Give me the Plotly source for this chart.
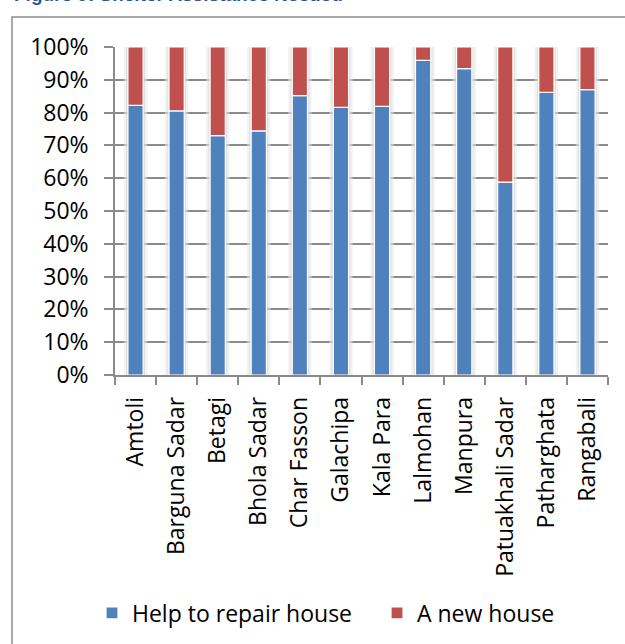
import plotly.graph_objects as go

# Upazila-level share of households by type of shelter assistance needed (%)
upazilas = ["Amtoli", "Barguna Sadar", "Betagi", "Bhola Sadar", "Char Fasson",
            "Galachipa", "Kala Para", "Lalmohan", "Manpura", "Patuakhali Sadar",
            "Patharghata", "Rangabali"]
repair_house = [82.2, 80.5, 73.0, 74.4, 85.2, 81.6, 81.9, 95.9, 93.4, 58.8, 86.2, 87.0]
new_house = [17.8, 19.5, 27.0, 25.6, 14.8, 18.4, 18.1, 4.1, 6.6, 41.2, 13.8, 13.0]
y_tick_vals = [0, 10, 20, 30, 40, 50, 60, 70, 80, 90, 100]
y_tick_text = ["0%", "10%", "20%", "30%", "40%", "50%", "60%", "70%", "80%", "90%", "100%"]

W, H = 625, 644
ML, MR, MT, MB = 115, 17, 47, 269
PW, PH = W - ML - MR, H - MT - MB

BLUE = "#4F81BD"
RED = "#C0504D"
GRID = "#8a8a8a"
FONT = "Open Sans"
BAR_W = 0.37

totals = [r + n for r, n in zip(repair_house, new_house)]

fig = go.Figure()

# soft shadow halo around each column
fig.add_trace(go.Bar(x=upazilas, y=totals, width=BAR_W + 0.2,
                     marker=dict(color="rgba(232,232,232,0.55)", line=dict(width=0)),
                     showlegend=False, hoverinfo="skip"))
fig.add_trace(go.Bar(x=upazilas, y=totals, width=BAR_W + 0.09,
                     marker=dict(color="rgba(212,212,212,0.55)", line=dict(width=0)),
                     showlegend=False, hoverinfo="skip"))

fig.add_trace(go.Bar(name="Help to repair house", x=upazilas, y=repair_house,
                     width=BAR_W,
                     marker=dict(color=BLUE, line=dict(color="white", width=1.2))))
fig.add_trace(go.Bar(name="A new house", x=upazilas, y=new_house, base=repair_house,
                     width=BAR_W,
                     marker=dict(color=RED, line=dict(color="white", width=1.2))))

# outer chart frame (continues past the right and bottom page edges)
fig.add_shape(type="rect", xref="paper", yref="paper",
              x0=(12 - ML) / PW, x1=1.2, y0=-1.2, y1=1 + (MT - 17) / PH,
              line=dict(color="#8c8c8c", width=1.5), fillcolor="rgba(0,0,0,0)",
              layer="below")

fig.add_annotation(text="<b>Figure 9: Shelter Assistance Needed</b>",
                   xref="paper", yref="paper",
                   x=(12 - ML) / PW, y=1 + (MT - 7) / PH,
                   xanchor="left", yanchor="bottom", showarrow=False,
                   font=dict(family="Arial", size=19, color="#2a5597"))

fig.update_layout(
    width=W, height=H,
    margin=dict(l=ML, r=MR, t=MT, b=MB, autoexpand=False),
    barmode="overlay",
    plot_bgcolor="white", paper_bgcolor="white",
    font=dict(family=FONT, size=22, color="black"),
    legend=dict(orientation="h", x=(92 - ML) / PW, y=(375 - 613) / PH,
                xanchor="left", yanchor="middle",
                entrywidth=240, entrywidthmode="pixels",
                font=dict(family=FONT, size=23, color="black"),
                traceorder="normal"),
    xaxis=dict(
        showgrid=False, tickson="boundaries", ticks="outside", ticklen=8,
        tickcolor=GRID, tickwidth=1.5, showline=True, linecolor=GRID, linewidth=1.5,
        tickangle=-90, tickfont=dict(family=FONT, size=23),
        ticklabelstandoff=11, automargin=False,
        range=[-0.5, len(upazilas) - 0.5],
    ),
    yaxis=dict(
        range=[0, 100], tickmode="array", tickvals=y_tick_vals, ticktext=y_tick_text,
        showgrid=True, gridcolor=GRID, gridwidth=1.5,
        ticks="outside", ticklen=9, tickcolor=GRID, tickwidth=1.5,
        showline=True, linecolor=GRID, linewidth=1.5,
        tickfont=dict(family=FONT, size=23), zeroline=False,
        ticklabelstandoff=11, automargin=False,
    ),
)

fig.write_html("out.html")
